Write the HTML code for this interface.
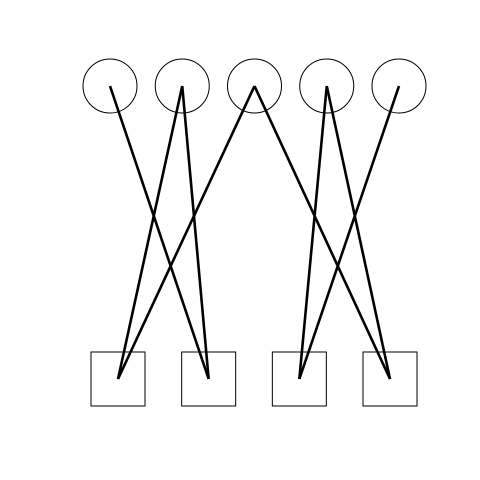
<!DOCTYPE html>
<html><head><meta charset="utf-8"><style>html,body{margin:0;padding:0;background:#fff}svg{display:block}</style></head>
<body>
<svg id="chart" width="480" height="480" viewBox="0 0 480 480" xmlns="http://www.w3.org/2000/svg">
<rect width="480" height="480" fill="#fff"/>
</svg>
<script>
const topNodes = [0, 1, 2, 3, 4];
const bottomNodes = [0, 1, 2, 3];
const edgeFrom = [0, 1, 1, 2, 2, 3, 3, 4];
const edgeTo = [1, 0, 1, 0, 3, 2, 3, 2];

const ns = 'http://www.w3.org/2000/svg';
const svg = document.getElementById('chart');
function topX(i){ return 110 + i * 72.25; }
function botX(i){ return 118 + i * 90.67; }
const topY = 86, botY = 379;

topNodes.forEach(i => {
  const c = document.createElementNS(ns, 'ellipse');
  c.setAttribute('cx', topX(i)); c.setAttribute('cy', topY);
  c.setAttribute('rx', 27); c.setAttribute('ry', 27);
  c.setAttribute('fill', 'none'); c.setAttribute('stroke', '#000'); c.setAttribute('stroke-width', '1');
  
  
  svg.appendChild(c);
});
bottomNodes.forEach(i => {
  const r = document.createElementNS(ns, 'rect');
  r.setAttribute('x', botX(i) - 27); r.setAttribute('y', botY - 27);
  r.setAttribute('width', 54); r.setAttribute('height', 54);
  r.setAttribute('fill', 'none'); r.setAttribute('stroke', '#000'); r.setAttribute('stroke-width', '1');
  
  
  svg.appendChild(r);
});
edgeFrom.forEach((f, k) => {
  const l = document.createElementNS(ns, 'line');
  l.setAttribute('x1', topX(f)); l.setAttribute('y1', topY);
  l.setAttribute('x2', botX(edgeTo[k])); l.setAttribute('y2', botY);
  l.setAttribute('stroke', '#000'); l.setAttribute('stroke-width', '2.6');
  
  
  svg.appendChild(l);
});
</script>
</body></html>
